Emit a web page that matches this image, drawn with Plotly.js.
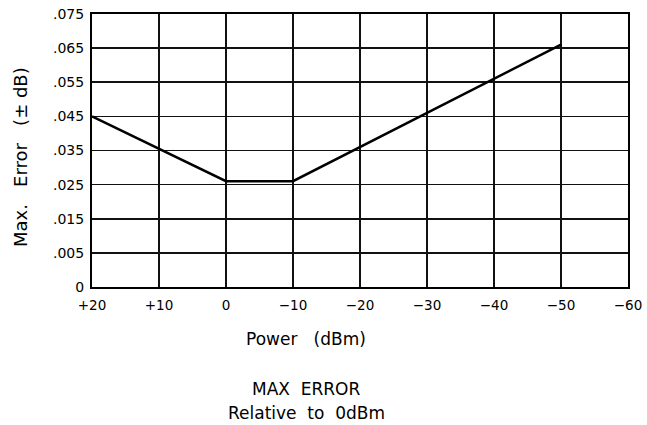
<!DOCTYPE html>
<html><head><meta charset="utf-8">
<script src="https://cdn.plot.ly/plotly-3.0.1.min.js"></script>
<style>html,body{margin:0;padding:0;background:#fff;}#c{width:647px;height:425px;}</style>
</head><body><div id="c"></div>
<script>
// Data
const powerDbm = [20, 0, -10, -50];
const maxError = [0.045, 0.026, 0.026, 0.066];
// Axis ticks (the original's bottom label "0" sits one grid step below .005)
const xTickVals = [20, 10, 0, -10, -20, -30, -40, -50, -60];
const xTickText = ['+20', '+10', '0', '\u221210', '\u221220', '\u221230', '\u221240', '\u221250', '\u221260'];
const yTickVals = [-0.005, 0.005, 0.015, 0.025, 0.035, 0.045, 0.055, 0.065, 0.075];
const yTickText = ['0', '.005', '.015', '.025', '.035', '.045', '.055', '.065', '.075'];

const F = 'DejaVu Sans, Verdana, sans-serif';
const S = '\u00a0\u00a0';
const S3 = '\u00a0\u00a0\u00a0';
const trace = {
  x: powerDbm, y: maxError, type: 'scatter', mode: 'lines',
  line: {color: '#000', width: 2.5}, hoverinfo: 'skip'
};
const layout = {
  width: 647, height: 425,
  margin: {l: 92, r: 19, t: 14, b: 138},
  paper_bgcolor: '#fff', plot_bgcolor: '#fff',
  showlegend: false,
  font: {family: F, color: '#000', size: 13},
  xaxis: {
    range: [20, -60], tickvals: xTickVals, ticktext: xTickText,
    showgrid: true, gridcolor: '#111', gridwidth: 1.3,
    showline: true, linecolor: '#000', linewidth: 2, mirror: true,
    zeroline: false, ticks: '', ticklabelstandoff: 5,
    tickfont: {family: F, size: 13.5, color: '#000'}
  },
  yaxis: {
    range: [-0.005, 0.075], tickvals: yTickVals, ticktext: yTickText,
    showgrid: true, gridcolor: '#111', gridwidth: 1.6,
    showline: true, linecolor: '#000', linewidth: 2, mirror: true,
    zeroline: false, ticks: '', ticklabelstandoff: 3,
    tickfont: {family: F, size: 14, color: '#000'}
  },
  annotations: [
    {text: 'Max.' + S3 + 'Error' + S3 + '(\u00b1\u00a0dB)', xref: 'paper', yref: 'paper',
     x: -0.133, y: 0.475, textangle: -90, showarrow: false,
     xanchor: 'center', yanchor: 'middle', font: {family: F, size: 18, color: '#000'}},
    {text: 'Power' + S3 + '(dBm)', xref: 'paper', yref: 'paper', x: 0.4, y: -0.19,
     showarrow: false, xanchor: 'center', yanchor: 'middle', font: {family: F, size: 17, color: '#000'}},
    {text: 'MAX' + S + 'ERROR', xref: 'paper', yref: 'paper', x: 0.4, y: -0.375,
     showarrow: false, xanchor: 'center', yanchor: 'middle', font: {family: F, size: 17, color: '#000'}},
    {text: 'Relative' + S + 'to' + S + '0dBm', xref: 'paper', yref: 'paper', x: 0.4, y: -0.46,
     showarrow: false, xanchor: 'center', yanchor: 'middle', font: {family: F, size: 17, color: '#000'}}
  ]
};
Plotly.newPlot('c', [trace], layout, {staticPlot: true, displayModeBar: false});
</script></body></html>
